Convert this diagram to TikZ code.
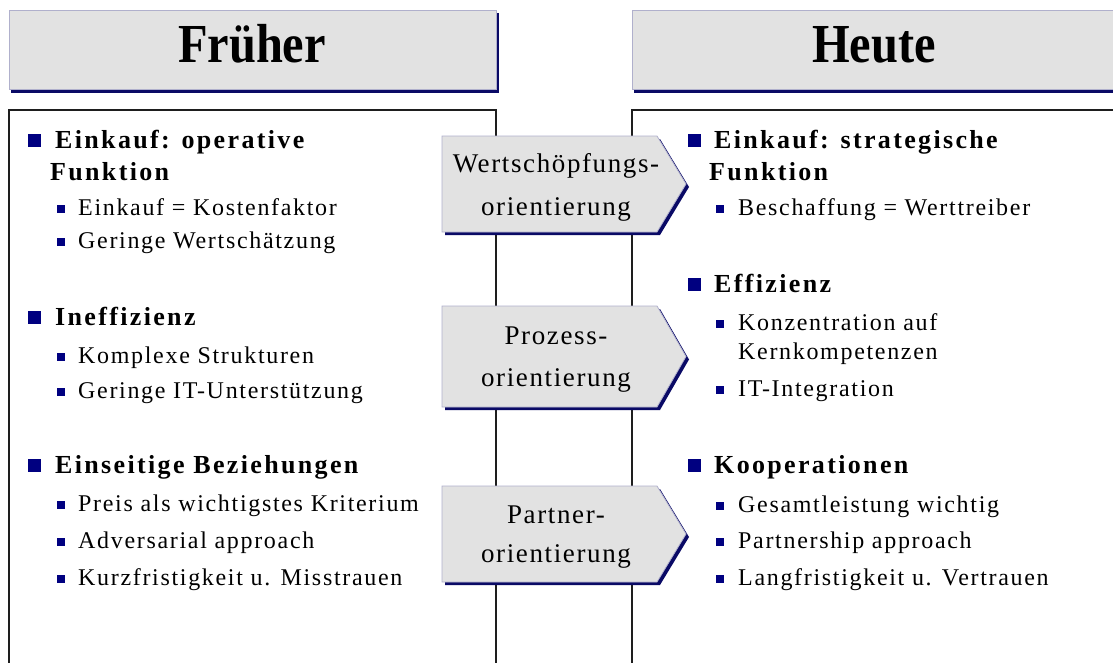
\documentclass[tikz,border=0pt]{standalone}
\usepackage{fontspec}
\setmainfont{Liberation Serif}
\newfontfamily\bodyfont[LetterSpace=7]{Liberation Serif}
\newfontfamily\headfont[LetterSpace=9]{Liberation Serif}
\newfontfamily\arrfont[LetterSpace=6]{Liberation Serif}
\newfontfamily\titlefont[FakeStretch=0.88]{Liberation Serif}
\definecolor{hdrfill}{HTML}{E2E2E2}
\definecolor{hdrline}{HTML}{B0B0CC}
\definecolor{shad}{HTML}{0A0A66}
\definecolor{bul}{HTML}{000080}
\definecolor{boxline}{HTML}{1E1E1E}
\begin{document}
\begin{tikzpicture}[x=1pt,y=-1pt,
  title/.style={anchor=base,inner sep=0pt,font=\titlefont\fontsize{55}{55}\selectfont\bfseries},
  lvlone/.style={anchor=base west,inner sep=0pt,font=\headfont\fontsize{26}{26}\selectfont\bfseries},
  lvltwo/.style={anchor=base west,inner sep=0pt,font=\bodyfont\fontsize{24}{24}\selectfont},
  arrtext/.style={anchor=base,inner sep=0pt,font=\arrfont\fontsize{27}{27}\selectfont},
  bulone/.style={anchor=south west,inner sep=0pt,minimum size=13pt,fill=bul,draw=none},
  bultwo/.style={anchor=south west,inner sep=0pt,minimum size=8pt,fill=bul,draw=none},
  hdr/.style={fill=hdrfill,draw=hdrline,line width=0.8pt},
  shadowfill/.style={fill=shad,draw=none},
  panel/.style={draw=boxline,line width=1.6pt},
  arrbody/.style={fill=hdrfill,draw=hdrline,line width=0.8pt}]
\useasboundingbox (0,0) rectangle (1113,662);
\fill[white] (0,0) rectangle (1113,662);
% headers
\fill[shadowfill] (11,13) rectangle (499,93);
\draw[hdr] (9,10) rectangle (496,89);
\node[title] (tfrueher) at (252,62) {Früher};
\fill[shadowfill] (634,13) rectangle (1140,93);
\draw[hdr] (632,10) rectangle (1140,89);
\node[title] (theute) at (874,62) {Heute};
% panels
\draw[panel] (9,700) -- (9,110) -- (496,110) -- (496,700);
\draw[panel] (632,700) -- (632,110) -- (1140,110);
% arrows
\foreach \t/\b/\n in {136/232/1,306/407/2,486/582/3}{
  \pgfmathsetmacro{\m}{(\t+\b)/2}
  \fill[shadowfill] (445,\t+3) -- (660,\t+3) -- (689,\m+3) -- (660,\b+3) -- (445,\b+3) -- cycle;
  \draw[arrbody] (442,\t) -- (657,\t) -- (686,\m) -- (657,\b) -- (442,\b) -- cycle;
  \coordinate (arr\n) at (556,\m);
}
\node[arrtext] (a1a) at ([yshift=12pt]arr1) {Wertschöpfungs-};
\node[arrtext] (a1b) at ([yshift=-31pt]arr1) {orientierung};
\node[arrtext] (a2a) at ([yshift=12pt]arr2) {Prozess-};
\node[arrtext] (a2b) at ([yshift=-30pt]arr2) {orientierung};
\node[arrtext] (a3a) at ([yshift=11pt]arr3) {Partner-};
\node[arrtext] (a3b) at ([yshift=-28pt]arr3) {orientierung};
% left column
\node[bulone] (lb1) at (28,147) {};
\node[lvlone] (l1) at (55,148) {Einkauf: operative};
\node[lvlone] (l1b) at (50,180) {Funktion};
\node[bultwo] (lb11) at (57,213) {};
\node[lvltwo] (l11) at (78,215) {Einkauf = Kostenfaktor};
\node[bultwo] (lb12) at (57,246) {};
\node[lvltwo] (l12) at (78,248) {Geringe Wertschätzung};
\node[bulone] (lb2) at (28,324) {};
\node[lvlone] (l2) at (55,325) {Ineffizienz};
\node[bultwo] (lb21) at (57,361) {};
\node[lvltwo] (l21) at (78,363) {Komplexe Strukturen};
\node[bultwo] (lb22) at (57,396) {};
\node[lvltwo] (l22) at (78,398) {Geringe IT-Unterstützung};
\node[bulone] (lb3) at (28,472) {};
\node[lvlone] (l3) at (55,473) {Einseitige Beziehungen};
\node[bultwo] (lb31) at (57,509) {};
\node[lvltwo] (l31) at (78,511) {Preis als wichtigstes Kriterium};
\node[bultwo] (lb32) at (57,546) {};
\node[lvltwo] (l32) at (78,548) {Adversarial approach};
\node[bultwo] (lb33) at (57,583) {};
\node[lvltwo] (l33) at (78,585) {Kurzfristigkeit u. Misstrauen};
% right column
\node[bulone] (rb1) at (688,147) {};
\node[lvlone] (r1) at (714,148) {Einkauf: strategische};
\node[lvlone] (r1b) at (709,180) {Funktion};
\node[bultwo] (rb11) at (716,213) {};
\node[lvltwo] (r11) at (738,215) {Beschaffung = Werttreiber};
\node[bulone] (rb2) at (688,291) {};
\node[lvlone] (r2) at (714,292) {Effizienz};
\node[bultwo] (rb21) at (716,328) {};
\node[lvltwo] (r21) at (738,330) {Konzentration auf};
\node[lvltwo] (r21b) at (738,359) {Kernkompetenzen};
\node[bultwo] (rb22) at (716,394) {};
\node[lvltwo] (r22) at (738,396) {IT-Integration};
\node[bulone] (rb3) at (688,472) {};
\node[lvlone] (r3) at (714,473) {Kooperationen};
\node[bultwo] (rb31) at (716,510) {};
\node[lvltwo] (r31) at (738,512) {Gesamtleistung wichtig};
\node[bultwo] (rb32) at (716,546) {};
\node[lvltwo] (r32) at (738,548) {Partnership approach};
\node[bultwo] (rb33) at (716,583) {};
\node[lvltwo] (r33) at (738,585) {Langfristigkeit u. Vertrauen};
\end{tikzpicture}
\end{document}
